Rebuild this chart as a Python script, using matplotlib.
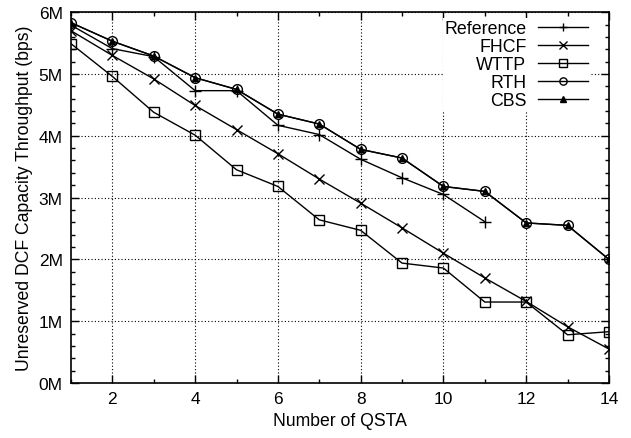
import matplotlib.pyplot as plt
from matplotlib.ticker import MultipleLocator, FuncFormatter

plt.rcParams['font.family'] = ['Liberation Sans', 'DejaVu Sans']

# number of QSTA
qsta = list(range(1, 15))

# unreserved DCF capacity throughput, in Mbps
reference = [5.79, 5.41, 5.28, 4.73, 4.73, 4.17, 4.02, 3.62, 3.32, 3.05, 2.61]
fhcf = [5.70, 5.30, 4.92, 4.49, 4.10, 3.71, 3.30, 2.91, 2.51, 2.10, 1.70, 1.32, 0.91, 0.55]
wttp = [5.49, 4.96, 4.38, 4.01, 3.45, 3.18, 2.64, 2.47, 1.94, 1.86, 1.31, 1.31, 0.78, 0.83]
rth = [5.83, 5.53, 5.29, 4.94, 4.75, 4.35, 4.19, 3.78, 3.64, 3.18, 3.10, 2.59, 2.55, 2.00]
cbs = [5.83, 5.53, 5.29, 4.94, 4.75, 4.35, 4.19, 3.78, 3.64, 3.18, 3.10, 2.59, 2.55, 2.00]

fig = plt.figure(figsize=(6.31, 4.39), dpi=100)
ax = fig.add_axes([0.1125, 0.1253, 0.8525, 0.8447])

ax.plot(qsta[:len(reference)], reference, color='black', lw=1.0, marker='+', ms=8, mew=1.0, label='Reference')
ax.plot(qsta, fhcf, color='black', lw=1.0, marker='x', ms=7, mew=1.0, label='FHCF')
ax.plot(qsta, wttp, color='black', lw=1.0, marker='s', ms=7, mew=1.0, mfc='none', label='WTTP')
ax.plot(qsta, rth, color='black', lw=1.0, marker='o', ms=7, mew=1.0, mfc='none', label='RTH')
ax.plot(qsta, cbs, color='black', lw=1.0, marker='^', ms=5, mfc='black', label='CBS')

ax.set_xlim(1, 14)
ax.set_ylim(0, 6)
ax.xaxis.set_major_locator(MultipleLocator(2))
ax.xaxis.set_minor_locator(MultipleLocator(1))
ax.yaxis.set_major_locator(MultipleLocator(1))
ax.yaxis.set_minor_locator(MultipleLocator(0.2))
ax.yaxis.set_major_formatter(FuncFormatter(lambda v, p: f'{v:.0f}M'))

ax.tick_params(which='both', direction='in', top=True, right=True, labelsize=12.5, width=1.0, colors='black')
ax.tick_params(which='major', length=6, pad=6)
ax.tick_params(which='minor', length=3)
ax.grid(True, which='major', color='black', linestyle=(0, (1, 2)), lw=0.8)
for s in ax.spines.values():
    s.set_linewidth(1.2)

ax.set_xlabel('Number of QSTA', fontsize=12.7)
ax.set_ylabel('Unreserved DCF Capacity Throughput (bps)', fontsize=12.7)

# gnuplot-style key: label on the left, sample on the right, white box, no frame
leg = ax.legend(loc='upper right', bbox_to_anchor=(0.964, 0.984), markerfirst=False, fontsize=12.8,
                frameon=True, fancybox=False, edgecolor='none', facecolor='white', framealpha=1,
                handlelength=2.8, labelspacing=0.06, borderaxespad=0, borderpad=0.1,
                handletextpad=0.65, markerscale=0.75)
leg.set_zorder(2.4)  # above grid and lines, below the spines

fig.savefig('out.png', dpi=100)
